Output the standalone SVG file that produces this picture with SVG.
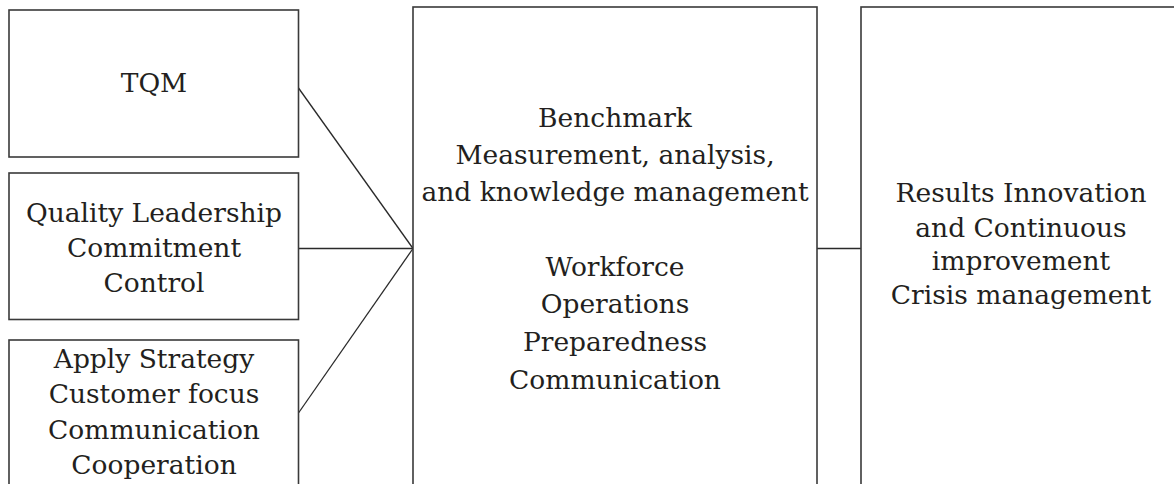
<svg xmlns="http://www.w3.org/2000/svg" width="1174" height="484" viewBox="0 0 1174 484">
<style>
.box{fill:#ffffff;stroke:#3a3a3a;stroke-width:1.6}
.lbl{font-family:"DejaVu Serif","Liberation Serif",serif;font-size:26.5px;fill:#231f20;text-anchor:middle}
.con{stroke:#2a2a2a;stroke-width:1.3;fill:none}
</style>
<rect x="0" y="0" width="1174" height="484" fill="#ffffff"/>
<g id="connectors">
<line class="con" x1="298.5" y1="88" x2="413" y2="248.5"/>
<line class="con" x1="298.5" y1="248.5" x2="413" y2="248.5"/>
<line class="con" x1="298.5" y1="413" x2="413" y2="248.5"/>
<line class="con" x1="817" y1="248.5" x2="861" y2="248.5"/>
</g>
<g id="tqm">
<rect class="box" x="9" y="10" width="289.5" height="147"/>
<text class="lbl" x="154" y="92">TQM</text>
</g>
<g id="quality">
<rect class="box" x="9" y="173" width="289.5" height="146.5"/>
<text class="lbl" x="154" y="222">Quality Leadership</text>
<text class="lbl" x="154" y="257">Commitment</text>
<text class="lbl" x="154" y="292">Control</text>
</g>
<g id="strategy">
<rect class="box" x="9" y="340" width="289.5" height="160"/>
<text class="lbl" x="154" y="368">Apply Strategy</text>
<text class="lbl" x="154" y="403">Customer focus</text>
<text class="lbl" x="154" y="439">Communication</text>
<text class="lbl" x="154" y="474">Cooperation</text>
</g>
<g id="benchmark">
<rect class="box" x="413" y="7" width="404" height="490"/>
<text class="lbl" x="615" y="127">Benchmark</text>
<text class="lbl" x="615" y="164">Measurement, analysis,</text>
<text class="lbl" x="615" y="201">and knowledge management</text>
<text class="lbl" x="615" y="276">Workforce</text>
<text class="lbl" x="615" y="313">Operations</text>
<text class="lbl" x="615" y="351">Preparedness</text>
<text class="lbl" x="615" y="389">Communication</text>
</g>
<g id="results">
<rect class="box" x="861" y="7" width="320" height="490"/>
<text class="lbl" x="1021" y="202">Results Innovation</text>
<text class="lbl" x="1021" y="237">and Continuous</text>
<text class="lbl" x="1021" y="270">improvement</text>
<text class="lbl" x="1021" y="304">Crisis management</text>
</g>
</svg>
